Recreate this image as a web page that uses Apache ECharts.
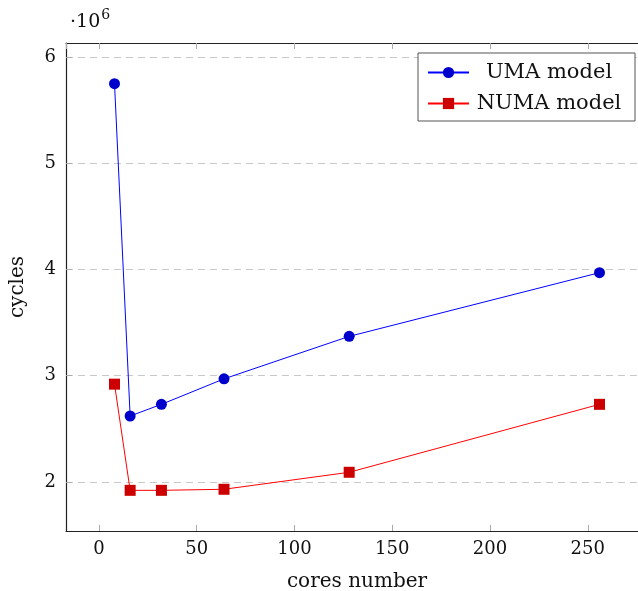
<!DOCTYPE html>
<html>
<head>
<meta charset="utf-8">
<script src="https://cdn.jsdelivr.net/npm/echarts@6/dist/echarts.min.js"></script>
<style>
  html, body { margin: 0; padding: 0; background: #fff; }
  #chart { width: 638px; height: 591px; }
</style>
</head>
<body>
<div id="chart"></div>
<script>
// cores number
var cores = [8, 16, 32, 64, 128, 256];
// cycles, in units of 10^6
var umaCycles = [5.75, 2.62, 2.73, 2.97, 3.37, 3.97];
var numaCycles = [2.92, 1.92, 1.92, 1.93, 2.09, 2.73];

var font = "'DejaVu Serif', 'Liberation Serif', serif";

function pairs(xs, ys) {
  return xs.map(function (x, i) { return [x, ys[i]]; });
}

var myChart = echarts.init(document.getElementById("chart"));
myChart.setOption({
  animation: false,
  textStyle: { fontFamily: font },
  grid: { left: 66, top: 43, right: -10, bottom: 60, outerBoundsMode: "none" },
  legend: {
    left: 418,
    top: 53,
    orient: "vertical",
    backgroundColor: "#fff",
    borderColor: "#555",
    borderWidth: 1,
    borderRadius: 0,
    padding: [9, 11, 7, 9],
    itemGap: 10,
    itemWidth: 41,
    itemHeight: 14,
    formatter: "{c|{name}}",
    textStyle: {
      fontFamily: font, fontSize: 21, color: "#111",
      rich: {
        c: { fontFamily: font, fontSize: 21, color: "#111", width: 150, align: "center", lineHeight: 22 }
      }
    },
    data: ["UMA model", "NUMA model"]
  },
  graphic: [
    {
      type: "text",
      left: 70,
      top: 8,
      style: {
        text: "{a|·10}{b|6}",
        rich: {
          a: { fontFamily: font, fontSize: 19, fill: "#111", verticalAlign: "bottom" },
          b: { fontFamily: font, fontSize: 14, fill: "#111", padding: [0, 0, 10, 1] }
        }
      }
    }
  ],
  xAxis: [
    {
      type: "value",
      min: -16.8,
      max: 280.8,
      splitNumber: 5,
      name: "cores number",
      nameLocation: "middle",
      nameGap: 41,
      nameTextStyle: { fontFamily: font, fontSize: 20, color: "#111" },
      axisLine: { onZero: false, lineStyle: { color: "#222", width: 1.2 } },
      axisTick: { inside: true, length: 6, lineStyle: { color: "#aaa" } },
      axisLabel: {
        showMinLabel: false, showMaxLabel: false,
        fontFamily: font, fontSize: 18, color: "#111", margin: 9
      },
      splitLine: { show: false }
    },
    {
      type: "value",
      position: "top",
      min: -16.8,
      max: 280.8,
      splitNumber: 5,
      axisLine: { onZero: false, lineStyle: { color: "#222", width: 1.2 } },
      axisTick: { inside: true, length: 6, lineStyle: { color: "#aaa" } },
      axisLabel: { show: false },
      splitLine: { show: false }
    }
  ],
  yAxis: {
    type: "value",
    min: 1.537,
    max: 6.133,
    splitNumber: 5,
    name: "cycles",
    nameLocation: "middle",
    nameGap: 38,
    nameRotate: 90,
    nameTextStyle: { fontFamily: font, fontSize: 20, color: "#111" },
    axisLine: { show: true, onZero: false, lineStyle: { color: "#222", width: 1.2 } },
    axisTick: { show: true, inside: true, length: 6, lineStyle: { color: "#aaa" } },
    axisLabel: {
      showMinLabel: false, showMaxLabel: false,
      fontFamily: font, fontSize: 18, color: "#111", margin: 10
    },
    splitLine: { show: true, lineStyle: { color: "#c8c8c8", type: [7, 5], width: 1 } }
  },
  series: [
    {
      name: "UMA model",
      type: "line",
      data: pairs(cores, umaCycles),
      symbol: "circle",
      symbolSize: 11,
      lineStyle: { color: "#0000ff", width: 1 },
      itemStyle: { color: "#0000cc" },
      emphasis: { disabled: true }
    },
    {
      name: "NUMA model",
      type: "line",
      data: pairs(cores, numaCycles),
      symbol: "rect",
      symbolSize: 11,
      lineStyle: { color: "#ff0000", width: 1 },
      itemStyle: { color: "#cc0000" },
      emphasis: { disabled: true }
    }
  ]
});
</script>
</body>
</html>
